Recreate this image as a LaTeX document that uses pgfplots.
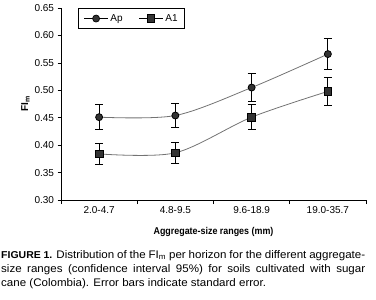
\documentclass[border=0pt]{standalone}
\usepackage{fontspec}
\setmainfont{Liberation Sans}
\newfontfamily\capfont{Liberation Sans}[FakeStretch=1.05]
\newfontfamily\labfont{Liberation Sans}[FakeStretch=0.9]
\usepackage{pgfplots}
\pgfplotsset{compat=1.18}
\begin{document}
\begin{tikzpicture}
\useasboundingbox (0pt,0pt) rectangle (376pt,-300pt);
\begin{axis}[
  at={(61pt,-200pt)}, anchor=south west,
  scale only axis, width=305pt, height=192pt,
  xmin=-0.5, xmax=3.5, ymin=0.30, ymax=0.65,
  axis x line*=bottom, axis y line*=left,
  axis line style={line width=0.7pt, -},
  xtick={0,1,2,3},
  xticklabels={2.0-4.7,4.8-9.5,9.6-18.9,19.0-35.7},
  major x tick style={draw=none},
  minor xtick={-0.5,0.5,1.5,2.5,3.5},
  minor x tick style={line width=0.7pt},
  minor tick length=4pt,
  ytick={0.30,0.35,...,0.66},
  major tick length=3.5pt,
  tick align=outside,
  tick style={black, line width=0.7pt},
  yticklabel style={/pgf/number format/.cd, fixed, fixed zerofill, precision=2},
  /pgf/number format/assume math mode=true,
  ticklabel style={font=\fontsize{10}{12}\selectfont},
  xticklabel style={yshift=1pt},
  xlabel={\textbf{Aggregate-size ranges (mm)}},
  xlabel style={font=\labfont\fontsize{9.9}{11}\selectfont, yshift=-7pt},
  ylabel={\textbf{FI}\textsubscript{\textbf{m}}},
  ylabel style={font=\fontsize{10}{12}\selectfont, yshift=-2pt},
  legend style={at={(0.057,1)}, anchor=north west, draw=black, line width=0.7pt,
    font=\fontsize{10}{12}\selectfont, inner xsep=5pt, inner ysep=4pt, legend columns=2,
    /tikz/every even column/.append style={column sep=14pt}},
  legend cell align=left,
  legend image code/.code={\draw[mark repeat=2,mark phase=2,#1] plot coordinates {(0pt,0pt) (12pt,0pt) (24pt,0pt)};},
]
\addlegendimage{black, line width=0.7pt, mark=*, mark size=3.5pt, mark options={fill=black!80, draw=black}}
\addlegendentry{Ap}
\addlegendimage{black, line width=0.7pt, mark=square*, mark size=3.8pt, mark options={fill=black!80, draw=black}}
\addlegendentry{A1}
\addplot[smooth, black!55, line width=0.8pt, mark=*, mark size=3.5pt,
  mark options={fill=black!80, draw=black},
  error bars/.cd, y dir=both, y explicit,
  error bar style={black, line width=0.8pt},
  error mark options={rotate=90, mark size=4pt, black, line width=0.8pt}]
  coordinates {
  (0,0.451) +- (0,0.0225)
  (1,0.454) +- (0,0.022)
  (2,0.505) +- (0,0.025)
  (3,0.566) +- (0,0.028)
  };
\addplot[smooth, black!55, line width=0.8pt, mark=square*, mark size=3.8pt,
  mark options={fill=black!80, draw=black},
  error bars/.cd, y dir=both, y explicit,
  error bar style={black, line width=0.8pt},
  error mark options={rotate=90, mark size=4pt, black, line width=0.8pt}]
  coordinates {
  (0,0.384) +- (0,0.019)
  (1,0.386) +- (0,0.019)
  (2,0.451) +- (0,0.023)
  (3,0.498) +- (0,0.025)
  };
\end{axis}
\node[anchor=north west, inner sep=0pt, text width=364pt, align=justify,
  font=\capfont\fontsize{11}{14.3}\selectfont] at (1pt,-250pt)
  {{\fontsize{10}{14.3}\selectfont\bfseries FIGURE 1.} Distribution of the FI\textsubscript{m} per horizon for the different aggregate-\linebreak
  size ranges (confidence interval 95\%) for soils cultivated with sugar\linebreak
  cane (Colombia). Error bars indicate standard error.};
\end{tikzpicture}
\end{document}
